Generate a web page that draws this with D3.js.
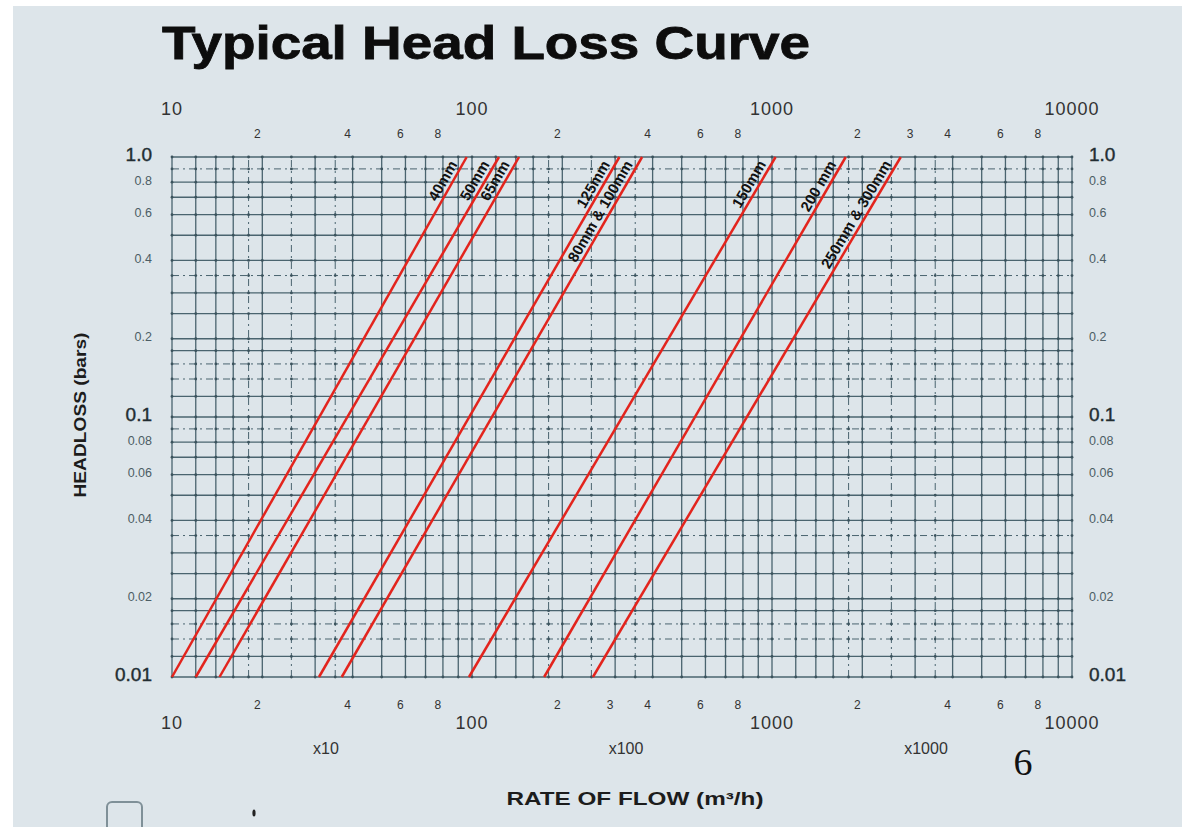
<!DOCTYPE html>
<html>

<head>
    <meta charset="UTF-8">
    <style>
        body {
            margin: 0;
            background: #fff;
        }

        svg {
            display: block;
            font-family: "Liberation Sans", Arial, sans-serif;
        }
    </style>
</head>

<body>
    <svg></svg>
    <script src="https://d3js.org/d3.v7.min.js"></script>

    <script>

        // pipe sizes and the flow (m3/h) at 0.01 bar and at 1.0 bar
        const pipeSizes = ["40mm", "50mm", "65mm", "125mm", "80mm & 100mm", "150mm", "200 mm", "250mm & 300mm"];
        const flowAtLow = [10, 12, 14.4, 30.9, 36.8, 97.7, 174, 253];
        const flowAtHigh = [96, 123, 143.5, 310, 369, 1028, 1761, 2687];

        // axis ticks
        const flowDecades = [10, 100, 1000, 10000];
        const lossMajor = [1.0, 0.1, 0.01];
        const lossMinor = [0.8, 0.6, 0.4, 0.2, 0.08, 0.06, 0.04, 0.02];
        const topMinor = [[2, 4, 6, 8], [2, 4, 6, 8], [2, 3, 4, 6, 8]];
        const bottomMinor = [[2, 4, 6, 8], [2, 3, 4, 6, 8], [2, 4, 6, 8]];
        const multipliers = ["x10", "x100", "x1000"];

        // log paper rulings inside one decade
        const gridSteps = [1, 1.2, 1.4, 1.6, 1.8, 2, 2.5, 3, 3.5, 4, 5, 6, 7, 8, 9];
        const hDashed = [9, 3.5, 1.6, 1.4];
        const vDashed = [2.5, 3.5, 1.8];

        let width = 1182, height = 827;
        let svg = d3.select("svg")
            .attr("width", width)
            .attr("height", height)
            .attr("viewBox", "0 0 " + width + " " + height);

        // paper
        svg.append("rect")
            .attr("x", 13).attr("y", 6)
            .attr("width", width - 13).attr("height", height - 6)
            .attr("fill", "#dde5ea");

        let x = d3.scaleLog().domain([10, 10000]).range([172, 1072]);
        let y = d3.scaleLog().domain([0.01, 1]).range([677, 157]);

        let xGrid = [], yGrid = [];
        [10, 100, 1000].forEach(d => gridSteps.forEach(s => xGrid.push({ v: d * s, dash: vDashed.includes(s) })));
        xGrid.push({ v: 10000, dash: false });
        [0.01, 0.1].forEach(d => gridSteps.forEach(s => yGrid.push({ v: d * s, dash: hDashed.includes(s) })));
        yGrid.push({ v: 1, dash: false });

        let grid = svg.append("g").attr("id", "grid");

        grid.selectAll("line.h")
            .data(yGrid)
            .join("line")
            .attr("class", "h")
            .attr("x1", x(10)).attr("x2", x(10000))
            .attr("y1", d => y(d.v)).attr("y2", d => y(d.v))
            .attr("stroke", "#4a646f")
            .attr("stroke-width", d => d.dash ? 1 : 1.3)
            .attr("stroke-dasharray", d => d.dash ? "7,4,2,4" : null);

        grid.selectAll("line.v")
            .data(xGrid)
            .join("line")
            .attr("class", "v")
            .attr("y1", y(0.01)).attr("y2", y(1))
            .attr("x1", d => x(d.v)).attr("x2", d => x(d.v))
            .attr("stroke", "#4a646f")
            .attr("stroke-width", d => d.dash ? 1 : 1.3)
            .attr("stroke-dasharray", d => d.dash ? "7,4,2,4" : null);

        // dots where the rulings cross
        let crossings = [];
        xGrid.forEach(a => yGrid.forEach(b => crossings.push([a.v, b.v])));
        grid.selectAll("circle")
            .data(crossings)
            .join("circle")
            .attr("cx", d => x(d[0]))
            .attr("cy", d => y(d[1]))
            .attr("r", 1.4)
            .attr("fill", "#3b535d");

        // head loss lines
        let pipes = pipeSizes.map((name, i) => ({ name: name, pts: [[flowAtLow[i], 0.01], [flowAtHigh[i], 1]] }));

        let line = d3.line().x(d => x(d[0])).y(d => y(d[1]));

        svg.append("g")
            .attr("id", "pipes")
            .selectAll("path")
            .data(pipes)
            .join("path")
            .attr("d", d => line(d.pts))
            .attr("fill", "none")
            .attr("stroke", "#e3241d")
            .attr("stroke-width", 2.5);

        // labels run along each line, ending just under the top ruling
        let labelAt = 0.92;
        svg.append("g")
            .attr("id", "pipe-labels")
            .selectAll("text")
            .data(pipes)
            .join("text")
            .attr("transform", d => {
                let a = d.pts[0], b = d.pts[1];
                let t = (Math.log10(labelAt) - Math.log10(a[1])) / (Math.log10(b[1]) - Math.log10(a[1]));
                let q = Math.pow(10, Math.log10(a[0]) + t * (Math.log10(b[0]) - Math.log10(a[0])));
                let ang = Math.atan2(y(a[1]) - y(b[1]), x(b[0]) - x(a[0])) * 180 / Math.PI;
                return "translate(" + x(q) + "," + y(labelAt) + ") rotate(" + (-ang) + ")";
            })
            .attr("dy", -4)
            .attr("text-anchor", "end")
            .attr("font-size", 15)
            .attr("font-weight", "bold")
            .attr("fill", "#111")
            .text(d => d.name);

        // flow axis, top
        let axes = svg.append("g").attr("id", "axes").attr("fill", "#333");

        axes.selectAll("text.top-dec")
            .data(flowDecades)
            .join("text")
            .attr("class", "top-dec")
            .attr("x", d => x(d))
            .attr("y", 115)
            .attr("text-anchor", "middle")
            .attr("font-size", 18)
            .attr("letter-spacing", 1)
            .text(d => d);

        let topMinorTicks = [], bottomMinorTicks = [];
        topMinor.forEach((list, i) => list.forEach(m => topMinorTicks.push({ v: m * flowDecades[i], t: m })));
        bottomMinor.forEach((list, i) => list.forEach(m => bottomMinorTicks.push({ v: m * flowDecades[i], t: m })));

        axes.selectAll("text.top-min")
            .data(topMinorTicks)
            .join("text")
            .attr("class", "top-min")
            .attr("x", d => x(d.v) - 5)
            .attr("y", 138)
            .attr("text-anchor", "middle")
            .attr("font-size", 12)
            .text(d => d.t);

        // flow axis, bottom
        axes.selectAll("text.bot-min")
            .data(bottomMinorTicks)
            .join("text")
            .attr("class", "bot-min")
            .attr("x", d => x(d.v) - 5)
            .attr("y", 709)
            .attr("text-anchor", "middle")
            .attr("font-size", 12)
            .text(d => d.t);

        axes.selectAll("text.bot-dec")
            .data(flowDecades)
            .join("text")
            .attr("class", "bot-dec")
            .attr("x", d => x(d))
            .attr("y", 729)
            .attr("text-anchor", "middle")
            .attr("font-size", 18)
            .attr("letter-spacing", 1)
            .text(d => d);

        axes.selectAll("text.mult")
            .data(multipliers)
            .join("text")
            .attr("class", "mult")
            .attr("x", (d, i) => x(Math.sqrt(flowDecades[i] * flowDecades[i + 1])) + 4)
            .attr("y", 754)
            .attr("text-anchor", "middle")
            .attr("font-size", 16)
            .text(d => d);

        // head loss axis, both sides
        [{ xp: 152, anchor: "end" }, { xp: 1089, anchor: "start" }].forEach(side => {
            axes.selectAll("text.maj-" + side.anchor)
                .data(lossMajor)
                .join("text")
                .attr("class", "maj-" + side.anchor)
                .attr("x", side.xp)
                .attr("y", d => y(d) - 3)
                .attr("dy", "0.35em")
                .attr("text-anchor", side.anchor)
                .attr("font-size", 19)
                .attr("fill", "#222d32")
                .attr("stroke", "#222d32")
                .attr("stroke-width", 0.4)
                .text(d => d === 1 ? "1.0" : d);

            axes.selectAll("text.min-" + side.anchor)
                .data(lossMinor)
                .join("text")
                .attr("class", "min-" + side.anchor)
                .attr("x", side.xp)
                .attr("y", d => y(d) - 2)
                .attr("dy", "0.35em")
                .attr("text-anchor", side.anchor)
                .attr("font-size", 12.5)
                .attr("fill", "#4c5d65")
                .text(d => d);
        });

        // titles
        svg.append("text")
            .attr("x", 162)
            .attr("y", 59)
            .attr("font-size", 47)
            .attr("font-weight", "bold")
            .attr("fill", "#0d0d0d")
            .attr("stroke", "#0d0d0d")
            .attr("stroke-width", 0.8)
            .attr("textLength", 648)
            .attr("lengthAdjust", "spacingAndGlyphs")
            .text("Typical Head Loss Curve");

        svg.append("text")
            .attr("transform", "translate(86,415) rotate(-90)")
            .attr("text-anchor", "middle")
            .attr("font-size", 17)
            .attr("font-weight", "bold")
            .attr("fill", "#1c1c1c")
            .attr("textLength", 165)
            .attr("lengthAdjust", "spacingAndGlyphs")
            .text("HEADLOSS (bars)");

        svg.append("text")
            .attr("x", 635)
            .attr("y", 805)
            .attr("text-anchor", "middle")
            .attr("font-size", 18)
            .attr("font-weight", "bold")
            .attr("fill", "#1c1c1c")
            .attr("textLength", 257)
            .attr("lengthAdjust", "spacingAndGlyphs")
            .text("RATE OF FLOW (m³/h)");

        // page number and scan marks
        svg.append("text")
            .attr("x", 1023)
            .attr("y", 775)
            .attr("text-anchor", "middle")
            .attr("font-family", "Liberation Serif, serif")
            .attr("font-size", 38)
            .attr("fill", "#111")
            .text("6");

        svg.append("rect")
            .attr("x", 107).attr("y", 802)
            .attr("width", 35).attr("height", 40)
            .attr("rx", 5)
            .attr("fill", "none")
            .attr("stroke", "#7f9098")
            .attr("stroke-width", 2);

        svg.append("ellipse")
            .attr("cx", 254).attr("cy", 813)
            .attr("rx", 1.6).attr("ry", 3.5)
            .attr("fill", "#222");

    </script>

</body>

</html>
